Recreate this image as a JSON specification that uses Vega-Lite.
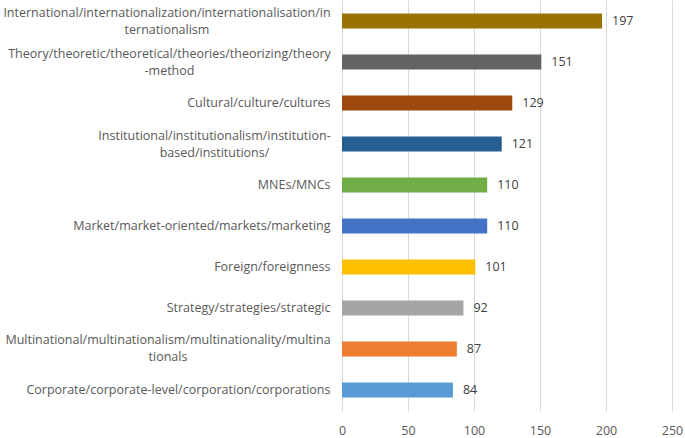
{
  "$schema": "https://vega.github.io/schema/vega-lite/v6.json",
  "autosize": "none",
  "width": 330,
  "height": 411,
  "padding": {"left": 342, "top": 0, "right": 13, "bottom": 27},
  "background": "white",
  "config": {"view": {"stroke": null}, "font": "Open Sans"},
  "data": {"values": [
    {"term": "International/internationalization/internationalisation/in|ternationalism", "count": 197},
    {"term": "Theory/theoretic/theoretical/theories/theorizing/theory|-method", "count": 151},
    {"term": "Cultural/culture/cultures", "count": 129},
    {"term": "Institutional/institutionalism/institution-|based/institutions/", "count": 121},
    {"term": "MNEs/MNCs", "count": 110},
    {"term": "Market/market-oriented/markets/marketing", "count": 110},
    {"term": "Foreign/foreignness", "count": 101},
    {"term": "Strategy/strategies/strategic", "count": 92},
    {"term": "Multinational/multinationalism/multinationality/multina|tionals", "count": 87},
    {"term": "Corporate/corporate-level/corporation/corporations", "count": 84}
  ]},
  "encoding": {
    "y": {
      "field": "term", "type": "nominal", "sort": null,
      "scale": {"paddingInner": 0.634, "paddingOuter": 0.33},
      "axis": {
        "title": null, "domain": false, "ticks": false, "grid": false,
        "labelExpr": "split(datum.value, '|')",
        "labelLimit": 400, "labelFontSize": 12.5,
        "labelColor": "#595959", "labelLineHeight": 17,
        "labelAlign": {"condition": {"test": "indexof(datum.value, '|') >= 0", "value": "center"}, "value": "right"},
        "labelOffset": {"condition": {"test": "indexof(datum.value, '|') >= 0", "value": -8.5}, "value": 0},
        "labelPadding": {"condition": [
          {"test": "indexof(datum.value, 'International/') == 0", "value": 175.5},
          {"test": "indexof(datum.value, 'Theory/') == 0", "value": 173},
          {"test": "indexof(datum.value, 'Institutional/') == 0", "value": 128},
          {"test": "indexof(datum.value, 'Multinational/') == 0", "value": 174.5}
        ], "value": 12}
      }
    },
    "x": {
      "field": "count", "type": "quantitative",
      "scale": {"domain": [0, 250], "nice": false},
      "axis": {
        "title": null, "domain": false, "ticks": false, "grid": true,
        "gridColor": "#d9d9d9", "values": [0, 50, 100, 150, 200, 250],
        "labelFontSize": 12.5, "labelColor": "#595959", "labelPadding": 13,
        "labelFlush": false
      }
    }
  },
  "layer": [
    {
      "mark": {"type": "bar"},
      "encoding": {
        "color": {
          "field": "term", "type": "nominal", "legend": null,
          "scale": {
            "domain": [
              "International/internationalization/internationalisation/in|ternationalism",
              "Theory/theoretic/theoretical/theories/theorizing/theory|-method",
              "Cultural/culture/cultures",
              "Institutional/institutionalism/institution-|based/institutions/",
              "MNEs/MNCs",
              "Market/market-oriented/markets/marketing",
              "Foreign/foreignness",
              "Strategy/strategies/strategic",
              "Multinational/multinationalism/multinationality/multina|tionals",
              "Corporate/corporate-level/corporation/corporations"
            ],
            "range": ["#997300", "#636363", "#9e480e", "#255e91", "#70ad47", "#4472c4", "#ffc000", "#a5a5a5", "#ed7d31", "#5b9bd5"]
          }
        }
      }
    },
    {
      "mark": {"type": "text", "align": "left", "dx": 10, "fontSize": 12.5, "color": "#404040"},
      "encoding": {"text": {"field": "count", "type": "quantitative"}}
    }
  ]
}
